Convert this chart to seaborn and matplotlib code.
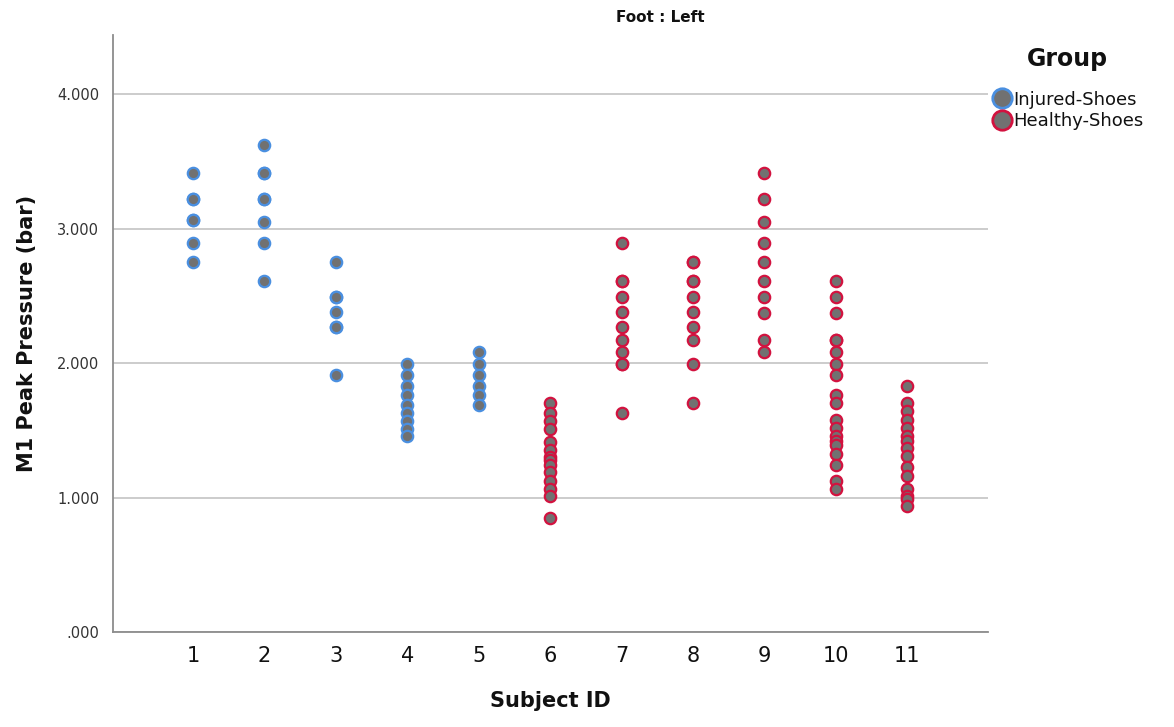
import matplotlib
matplotlib.use("Agg")
import matplotlib.pyplot as plt
import matplotlib.ticker as mticker
from matplotlib.lines import Line2D
import seaborn as sns
import pandas as pd

# M1 peak pressure readings (bar), left foot, per subject
subject_ids = ["1", "2", "3", "4", "5", "6", "7", "8", "9", "10", "11"]
groups = ["Injured-Shoes"] * 5 + ["Healthy-Shoes"] * 6

s1 = [3.41, 3.22, 3.22, 3.06, 3.06, 2.89, 2.75]
s2 = [3.62, 3.41, 3.41, 3.22, 3.22, 3.05, 2.89, 2.61]
s3 = [2.75, 2.49, 2.49, 2.38, 2.27, 2.27, 1.91]
s4 = [1.99, 1.91, 1.83, 1.76, 1.69, 1.63, 1.57, 1.51, 1.46]
s5 = [2.08, 1.99, 1.91, 1.83, 1.76, 1.69]
s6 = [1.70, 1.63, 1.57, 1.51, 1.41, 1.35, 1.30, 1.28, 1.24, 1.19, 1.12, 1.06, 1.01, 0.85]
s7 = [2.89, 2.61, 2.61, 2.49, 2.38, 2.27, 2.17, 2.08, 1.99, 1.99, 1.63]
s8 = [2.75, 2.75, 2.61, 2.61, 2.49, 2.38, 2.27, 2.17, 1.99, 1.70]
s9 = [3.41, 3.22, 3.05, 2.89, 2.75, 2.61, 2.49, 2.37, 2.17, 2.08]
s10 = [2.61, 2.49, 2.37, 2.17, 2.17, 2.08, 1.99, 1.91, 1.76, 1.70, 1.58,
       1.52, 1.46, 1.42, 1.39, 1.32, 1.24, 1.12, 1.06]
s11 = [1.83, 1.70, 1.64, 1.58, 1.52, 1.46, 1.42, 1.37, 1.31, 1.23, 1.16,
       1.06, 1.01, 0.99, 0.94]

readings = [s1, s2, s3, s4, s5, s6, s7, s8, s9, s10, s11]

rows = []
for sid, grp, vals in zip(subject_ids, groups, readings):
    for v in vals:
        rows.append({"Subject ID": sid, "Group": grp, "Pressure": v})
df = pd.DataFrame(rows)

edge_colors = {"Injured-Shoes": "#4a8fe0", "Healthy-Shoes": "#d2123f"}
fill_color = "#717171"

sns.set_style("white")
plt.rcParams["font.family"] = ["DejaVu Sans"]
plt.rcParams["text.color"] = "#111111"

fig = plt.figure(figsize=(11.74, 7.27), dpi=100)
ax = fig.add_axes([0.0963, 0.1307, 0.7453, 0.8213])

for grp in ["Injured-Shoes", "Healthy-Shoes"]:
    sub = df[df["Group"] == grp]
    sns.stripplot(data=sub, x="Subject ID", y="Pressure", order=subject_ids,
                  jitter=False, color=fill_color, edgecolor=edge_colors[grp],
                  linewidth=1.6, size=8.2, ax=ax, zorder=3)

ax.set_xlim(-1.12, 11.13)
ax.set_ylim(0, 4.44)
ax.set_yticks([0, 1, 2, 3, 4])
ax.yaxis.set_major_formatter(
    mticker.FuncFormatter(lambda v, p: ".000" if v == 0 else f"{v:.3f}"))
ax.grid(axis="y", color="#c4c4c4", linewidth=1.2, zorder=0)
ax.grid(axis="x", visible=False)

for side in ["top", "right"]:
    ax.spines[side].set_visible(False)
for side in ["left", "bottom"]:
    ax.spines[side].set_color("#8c8c8c")
    ax.spines[side].set_linewidth(1.3)

ax.tick_params(axis="y", length=0, pad=10, labelsize=10.5, labelcolor="#333333")
ax.tick_params(axis="x", length=0, pad=10, labelsize=15, labelcolor="#111111")

ax.set_xlabel("Subject ID", fontsize=15, fontweight="bold", labelpad=18,
              color="#111111")
ax.set_ylabel("M1 Peak Pressure (bar)", fontsize=15, fontweight="bold",
              labelpad=14, color="#111111")

fig.text(660 / 1174, 1 - 17 / 727, "Foot : Left", ha="center", va="center",
         fontsize=11, fontweight="bold")

handles = [Line2D([], [], marker="o", linestyle="none", markersize=14,
                  markerfacecolor=fill_color, markeredgecolor=edge_colors[g],
                  markeredgewidth=2.0, label=g)
           for g in ["Injured-Shoes", "Healthy-Shoes"]]
leg = fig.legend(handles=handles, title="Group", loc="upper left",
                 bbox_to_anchor=(0.838, 0.945), frameon=False, fontsize=13,
                 title_fontproperties={"weight": "bold", "size": 17},
                 handletextpad=0.05, labelspacing=0.2, borderaxespad=0,
                 handlelength=1.2)
leg._legend_box.sep = 14

fig.savefig("out.png", dpi=100)
